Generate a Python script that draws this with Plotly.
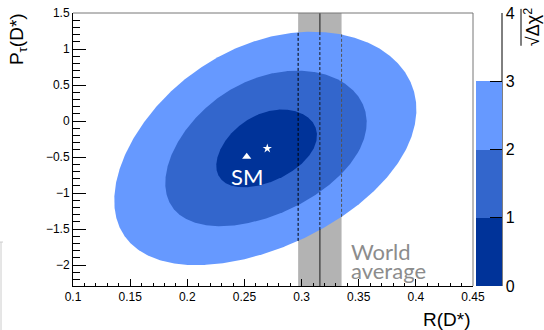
import numpy as np
import plotly.graph_objects as go

# Measurement: R(D*) vs P_tau(D*); slightly skewed likelihood contours
CENTER = [0.270, -0.38]           # best fit R(D*), P_tau(D*)
SIGMA_X = 0.0406                  # R(D*) width
SIGMA_Y = 0.54                    # P_tau(D*) width
TILT = [0.0313, -0.007]           # R(D*) shift per unit P_tau: linear, skew
CL_LEVELS = [3, 2, 1]             # sqrt(delta chi2) contours, drawn outer to inner
CL_COLORS = ["#6699ff", "#3366cc", "#003399"]

# Standard Model prediction
SM_POINT = [0.252, -0.497]

# World average of R(D*)
WA_CENTER = 0.316
WA_ERROR = 0.019

X_TICKS = [0.1, 0.15, 0.2, 0.25, 0.3, 0.35, 0.4, 0.45]
X_TICKTEXT = ["0.1", "0.15", "0.2", "0.25", "0.3", "0.35", "0.4", "0.45"]
Y_TICKS = [-2, -1.5, -1, -0.5, 0, 0.5, 1, 1.5]
Y_TICKTEXT = ["\u22122", "\u22121.5", "\u22121", "\u22120.5", "0", "0.5", "1", "1.5"]
CB_TICKS = [0, 1, 2, 3, 4]

X_RANGE = [0.1, 0.45]
Y_RANGE = [-2.29, 1.5]

AXIS_FONT = "Liberation Sans, Arial, sans-serif"
LABEL_FONT = "Lato, sans-serif"


def contour(k, n=720):
    """Closed contour at sqrt(delta chi2) = k."""
    t = np.linspace(0, 2 * np.pi, n)
    c, s = np.cos(t), np.sin(t)
    dy = SIGMA_Y * k * s
    dx = SIGMA_X * k * c + (TILT[0] + TILT[1] * s) * dy
    return CENTER[0] + dx, CENTER[1] + dy


def y_span(xv, k):
    """Lowest and highest crossing of the vertical line x = xv with a contour."""
    cx, cy = contour(k, 4000)
    ys = []
    for i in range(len(cx) - 1):
        a, b = cx[i] - xv, cx[i + 1] - xv
        if a == 0:
            ys.append(cy[i])
        elif a * b < 0:
            f = a / (a - b)
            ys.append(cy[i] + f * (cy[i + 1] - cy[i]))
    return min(ys), max(ys)


fig = go.Figure()

for k, col in zip(CL_LEVELS, CL_COLORS):
    ex, ey = contour(k)
    fig.add_trace(go.Scatter(x=ex, y=ey, mode="lines", fill="toself",
                             fillcolor=col, line=dict(width=0, color=col),
                             hoverinfo="skip", showlegend=False))

# dashed world-average lines inside the outer contour
wa_lines = [WA_CENTER - WA_ERROR, WA_CENTER, WA_CENTER + WA_ERROR]
wa_colors = ["#000000", "#1a1a1a", "#555555"]
for xv, c in zip(wa_lines, wa_colors):
    lo, hi = y_span(xv, CL_LEVELS[0])
    fig.add_trace(go.Scatter(x=[xv, xv], y=[lo, hi], mode="lines",
                             line=dict(color=c, width=1, dash="3px,2px"),
                             hoverinfo="skip", showlegend=False))

# best fit and SM points
fig.add_trace(go.Scatter(x=[CENTER[0]], y=[CENTER[1]], mode="markers",
                         marker=dict(symbol="star", size=7, color="white",
                                     line=dict(width=0)),
                         hoverinfo="skip", showlegend=False))
fig.add_trace(go.Scatter(x=[SM_POINT[0]], y=[SM_POINT[1]], mode="markers",
                         marker=dict(symbol="triangle-up", size=8, color="white",
                                     line=dict(width=0)),
                         hoverinfo="skip", showlegend=False))

# colour scale for sqrt(delta chi2)
cscale = [[0.0, CL_COLORS[2]], [0.25, CL_COLORS[2]],
          [0.25, CL_COLORS[1]], [0.5, CL_COLORS[1]],
          [0.5, CL_COLORS[0]], [0.75, CL_COLORS[0]],
          [0.75, "rgba(255,255,255,0)"], [1.0, "rgba(255,255,255,0)"]]
fig.add_trace(go.Scatter(x=[None], y=[None], mode="markers",
                         marker=dict(color=[0], cmin=0, cmax=4, colorscale=cscale,
                                     showscale=True,
                                     colorbar=dict(x=1.0075, xanchor="left", xpad=0,
                                                   y=0.5, yanchor="middle", len=1,
                                                   lenmode="fraction", ypad=0,
                                                   thickness=26, outlinewidth=0,
                                                   ticks="inside", ticklen=12,
                                                   tickwidth=1, tickcolor="black",
                                                   tickvals=CB_TICKS,
                                                   tickfont=dict(family=AXIS_FONT,
                                                                 size=16, color="black"))),
                         hoverinfo="skip", showlegend=False))

shapes = [
    # world average band and central value, beneath the contours
    dict(type="rect", xref="x", yref="paper", x0=WA_CENTER - WA_ERROR,
         x1=WA_CENTER + WA_ERROR, y0=0, y1=1, fillcolor="#b3b3b3",
         line=dict(width=0), layer="below"),
    dict(type="line", xref="x", yref="paper", x0=WA_CENTER, x1=WA_CENTER,
         y0=0, y1=1, line=dict(color="#4d4d4d", width=1.5), layer="below"),
    # frame
    dict(type="line", xref="paper", yref="paper", x0=0, x1=1, y0=1, y1=1,
         line=dict(color="#777777", width=1)),
    dict(type="line", xref="paper", yref="paper", x0=1, x1=1, y0=0, y1=1,
         line=dict(color="#777777", width=1)),
    # colour bar axis line
    dict(type="line", xref="paper", yref="paper", x0=1.0725, x1=1.0725, y0=0, y1=1,
         line=dict(color="black", width=1)),
    # overline of the square root in the colour bar title
    dict(type="line", xref="paper", yref="paper", x0=1.12, x1=1.12, y0=0.88, y1=1.015,
         line=dict(color="black", width=1)),
    # panel edge at the lower left
    dict(type="line", xref="paper", yref="paper", x0=-0.18, x1=-0.18, y0=0.161, y1=-0.2,
         line=dict(color="#cccccc", width=1)),
    dict(type="line", xref="paper", yref="paper", x0=-0.1825, x1=-0.175, y0=0.161, y1=0.161,
         line=dict(color="#cccccc", width=1)),
]

annotations = [
    dict(text="R(D*)", xref="paper", yref="paper", x=1.0, y=-0.121,
         xanchor="right", yanchor="middle", showarrow=False,
         font=dict(family=AXIS_FONT, size=19, color="black")),
    dict(text="P<sub>\u03c4</sub>(D*)", xref="paper", yref="paper", x=-0.1375, y=1.007,
         xanchor="center", yanchor="top", textangle=-90, showarrow=False,
         font=dict(family=AXIS_FONT, size=19, color="black")),
    dict(text="\u221a\u0394\u03c7<sup>2</sup>", xref="paper", yref="paper", x=1.1475, y=1.025,
         xanchor="center", yanchor="top", textangle=-90, showarrow=False,
         font=dict(family=AXIS_FONT, size=18, color="black")),
    dict(text="SM", xref="x", yref="y", x=SM_POINT[0], y=-0.77,
         xanchor="center", yanchor="middle", showarrow=False,
         font=dict(family=LABEL_FONT, size=22, color="white")),
    dict(text="World", xref="x", yref="y", x=0.3415, y=-1.81,
         xanchor="left", yanchor="middle", showarrow=False,
         font=dict(family=LABEL_FONT, size=22, color="#8c8c8c")),
    dict(text="average", xref="x", yref="y", x=0.3415, y=-2.07,
         xanchor="left", yanchor="middle", showarrow=False,
         font=dict(family=LABEL_FONT, size=22, color="#8c8c8c")),
]

fig.update_layout(
    width=544, height=330,
    margin=dict(l=73, r=71, t=13, b=44, autoexpand=False),
    paper_bgcolor="white", plot_bgcolor="white",
    shapes=shapes, annotations=annotations,
    showlegend=False,
    xaxis=dict(range=X_RANGE, showgrid=False, zeroline=False,
               showline=True, linecolor="black", linewidth=1, mirror=False,
               ticks="inside", ticklen=7, tickwidth=1, tickcolor="black",
               tickvals=X_TICKS, ticktext=X_TICKTEXT,
               minor=dict(ticks="inside", ticklen=3.5, dtick=0.01, tick0=0.1,
                          tickcolor="black", showgrid=False),
               tickfont=dict(family=AXIS_FONT, size=12, color="black")),
    yaxis=dict(range=Y_RANGE, showgrid=False, zeroline=False,
               showline=True, linecolor="black", linewidth=1, mirror=False,
               ticks="inside", ticklen=13, tickwidth=1, tickcolor="black",
               tickvals=Y_TICKS, ticktext=Y_TICKTEXT,
               minor=dict(ticks="inside", ticklen=7, dtick=0.1, tick0=0,
                          tickcolor="black", showgrid=False),
               tickfont=dict(family=AXIS_FONT, size=12, color="black")),
)

fig.write_html("out.html")
